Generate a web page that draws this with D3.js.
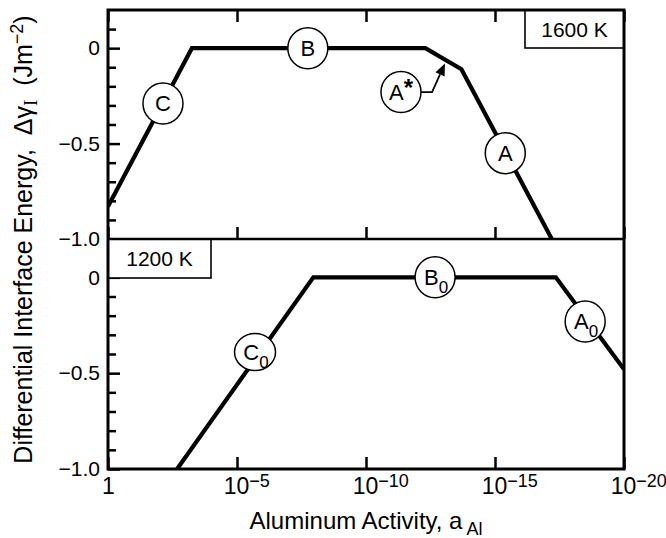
<!DOCTYPE html>
<html><head><meta charset="utf-8">
<script src="https://cdn.jsdelivr.net/npm/d3@7"></script>
<style>
body{margin:0;background:#fff}
svg{display:block}
text{font-family:"Liberation Sans",Arial,Helvetica,sans-serif;fill:#000}
</style>
</head><body>
<svg id="c" width="666" height="538"></svg>
<script>
// ---- data ----
const xTickValues = [1, 1e-5, 1e-10, 1e-15, 1e-20];
const yMajorTicks = [0, -0.5, -1.0];
const yMinorTicks = [0.1, -0.1, -0.2, -0.3, -0.4, -0.6, -0.7, -0.8, -0.9];
const panelNames = ["1600 K", "1200 K"];

const act1600 = [1, 5.6e-4, 5.0e-13, 2.0e-14, 6.3e-18];
const dg1600  = [-0.83, 0, 0, -0.11, -1.0];
const act1200 = [2.1e-3, 1.1e-8, 4.4e-18, 1e-20];
const dg1200  = [-1.0, 0, 0, -0.48];

const lab1600Text = ["C", "B", "A*", "A"];
const lab1600Act  = [7.4e-3, 1.8e-8, 4.4e-12, 4.0e-16];
const lab1600Val  = [-0.29, 0, -0.23, -0.55];
const lab1200Text = ["C0", "B0", "A0"];
const lab1200Act  = [2.0e-6, 2.1e-13, 3.2e-19];
const lab1200Val  = [-0.39, 0, -0.23];

// arrow from A* label to the A* segment
const arrowAct = [2.75e-13, 8.7e-14];
const arrowVal = [-0.23, -0.08];

// ---- layout ----
const svg = d3.select("#c");
const L = 108, R = 624, T = 10, MID = 239, B = 469;
const x = d3.scaleLog().domain([1, 1e-20]).range([L, R]);
const yTop = d3.scaleLinear().domain([-1.0, 0.2]).range([MID, T]);
const yBot = d3.scaleLinear().domain([-1.0, 0.2]).range([B, MID]);

const fmtY = d => d === 0 ? "0" : "\u2212" + Math.abs(d).toFixed(1);

function drawPanel(y, top, bottom, acts, vals, labT, labA, labV, name, boxLeft, topTicks, xLabels, clipId) {
  svg.append("clipPath").attr("id", clipId).append("rect")
    .attr("x", L).attr("y", top).attr("width", R - L).attr("height", bottom - top);

  const ga = svg.append("g").attr("transform", `translate(${L},0)`)
    .call(d3.axisLeft(y).tickValues(yMajorTicks).tickSize(-12).tickPadding(8).tickFormat(fmtY));
  ga.select(".domain").remove();
  ga.selectAll("line").attr("stroke", "#000").attr("stroke-width", 2.5);
  ga.selectAll("text").attr("font-size", 21);
  const gm = svg.append("g").attr("transform", `translate(${L},0)`)
    .call(d3.axisLeft(y).tickValues(yMinorTicks).tickSize(-8).tickFormat(""));
  gm.select(".domain").remove();
  gm.selectAll("line").attr("stroke", "#000").attr("stroke-width", 2.5);

  const gx = svg.append("g").attr("transform", `translate(0,${bottom})`)
    .call(d3.axisBottom(x).tickValues(xTickValues).tickSize(-12).tickPadding(9)
      .tickFormat(xLabels ? (d => d) : ""));
  gx.select(".domain").remove();
  gx.selectAll("line").attr("stroke", "#000").attr("stroke-width", 2.5);
  if (xLabels) {
    gx.selectAll(".tick text").each(function(d) {
      const e = Math.round(Math.log10(d));
      const t = d3.select(this).attr("font-size", 23).text(null);
      if (e === 0) { t.text("1"); return; }
      const base = t.append("tspan").text("10");
      t.append("tspan").attr("dy", "-0.4em").attr("font-size", 18).text("\u2212" + (-e));
      const w = base.node().getComputedTextLength();
      t.attr("text-anchor", "start").attr("x", -w / 2 - 1);
    });
  }
  if (topTicks) {
    const gt = svg.append("g").attr("transform", `translate(0,${top})`)
      .call(d3.axisTop(x).tickValues(xTickValues).tickSize(-12).tickFormat(""));
    gt.select(".domain").remove();
    gt.selectAll("line").attr("stroke", "#000").attr("stroke-width", 2.5);
  }

  const line = d3.line().x(d => x(d[0])).y(d => y(d[1]));
  svg.append("path").attr("clip-path", `url(#${clipId})`)
    .attr("d", line(acts.map((a, i) => [a, vals[i]])))
    .attr("fill", "none").attr("stroke", "#000").attr("stroke-width", 4.2)
    .attr("stroke-linejoin", "miter");

  const bx = boxLeft ? L : R - 99;
  const by = top;
  const bw = boxLeft ? 103 : 99;
  const bh = boxLeft ? 39 : 38;
  svg.append("rect").attr("x", bx).attr("y", by).attr("width", bw).attr("height", bh)
    .attr("fill", "#fff").attr("stroke", "#000").attr("stroke-width", 1.6);
  svg.append("text").attr("x", bx + bw / 2).attr("y", by + bh / 2).attr("dy", "0.36em")
    .attr("text-anchor", "middle").attr("font-size", 21).text(name);

  labT.forEach((t, i) => {
    const cx = x(labA[i]), cy = y(labV[i]);
    const sub = t.length === 2 && t[1] === "0";
    svg.append("ellipse").attr("cx", cx).attr("cy", cy)
      .attr("rx", sub && t[0] === "C" ? 20.5 : 20).attr("ry", sub && t[0] === "C" ? 18.5 : 20.5)
      .attr("fill", "#fff").attr("stroke", "#000").attr("stroke-width", 1.5);
    const tx = svg.append("text").attr("x", cx).attr("y", cy).attr("dy", "0.36em")
      .attr("text-anchor", "middle").attr("font-size", 22);
    if (sub) {
      tx.append("tspan").text(t[0]);
      tx.append("tspan").attr("font-size", 17).attr("dy", "0.45em").text("0");
      tx.attr("x", cx + 1);
    } else if (t === "A*") {
      tx.append("tspan").text("A");
      tx.append("tspan").attr("font-size", 24).attr("font-weight", "bold").attr("dy", "-0.15em").text("*");
    } else {
      tx.text(t);
    }
  });
}

drawPanel(yTop, T, MID, act1600, dg1600, lab1600Text, lab1600Act, lab1600Val, panelNames[0], false, true, false, "clipTop");
drawPanel(yBot, MID, B, act1200, dg1200, lab1200Text, lab1200Act, lab1200Val, panelNames[1], true, false, true, "clipBot");

// A* arrow
const ax0 = x(lab1600Act[2]) + 20, ay0 = yTop(lab1600Val[2]);
const ax1 = x(arrowAct[0]), ay1 = yTop(arrowVal[0]);
const ax2 = x(arrowAct[1]), ay2 = yTop(arrowVal[1]);
const ang = Math.atan2(ay2 - ay1, ax2 - ax1);
const hl = 12, hw = 5;
const bxp = ax2 - hl * Math.cos(ang), byp = ay2 - hl * Math.sin(ang);
svg.append("path").attr("d", `M${ax0},${ay0}L${ax1},${ay1}L${bxp},${byp}`)
  .attr("fill", "none").attr("stroke", "#000").attr("stroke-width", 1.8);
svg.append("path").attr("d",
  `M${ax2},${ay2}L${bxp + hw * Math.sin(ang)},${byp - hw * Math.cos(ang)}L${bxp - hw * Math.sin(ang)},${byp + hw * Math.cos(ang)}Z`)
  .attr("fill", "#000");

// frame
svg.append("rect").attr("x", L).attr("y", T).attr("width", R - L).attr("height", B - T)
  .attr("fill", "none").attr("stroke", "#000").attr("stroke-width", 3);
svg.append("line").attr("x1", L).attr("x2", R).attr("y1", MID).attr("y2", MID)
  .attr("stroke", "#000").attr("stroke-width", 2.5);

// axis titles
const xt = svg.append("text").attr("x", (L + R) / 2).attr("y", 529).attr("text-anchor", "middle")
  .attr("font-size", 24);
xt.append("tspan").text("Aluminum Activity, a");
xt.append("tspan").attr("font-size", 18).attr("dx", 4).attr("dy", 6).text("Al");

const yt = svg.append("text").attr("transform", `translate(32,${(T + B) / 2}) rotate(-90)`)
  .attr("text-anchor", "middle").attr("font-size", 25).style("white-space", "pre");
yt.append("tspan").text("Differential Interface Energy,  \u0394\u03b3");
yt.append("tspan").attr("font-size", 19).attr("font-family", "Liberation Serif, serif").attr("dy", 5).text("I");
yt.append("tspan").attr("dy", -5).text("  (Jm");
yt.append("tspan").attr("font-size", 18).attr("dy", -9).text("\u22122");
yt.append("tspan").attr("dy", 9).text(")");
</script>
</body></html>
